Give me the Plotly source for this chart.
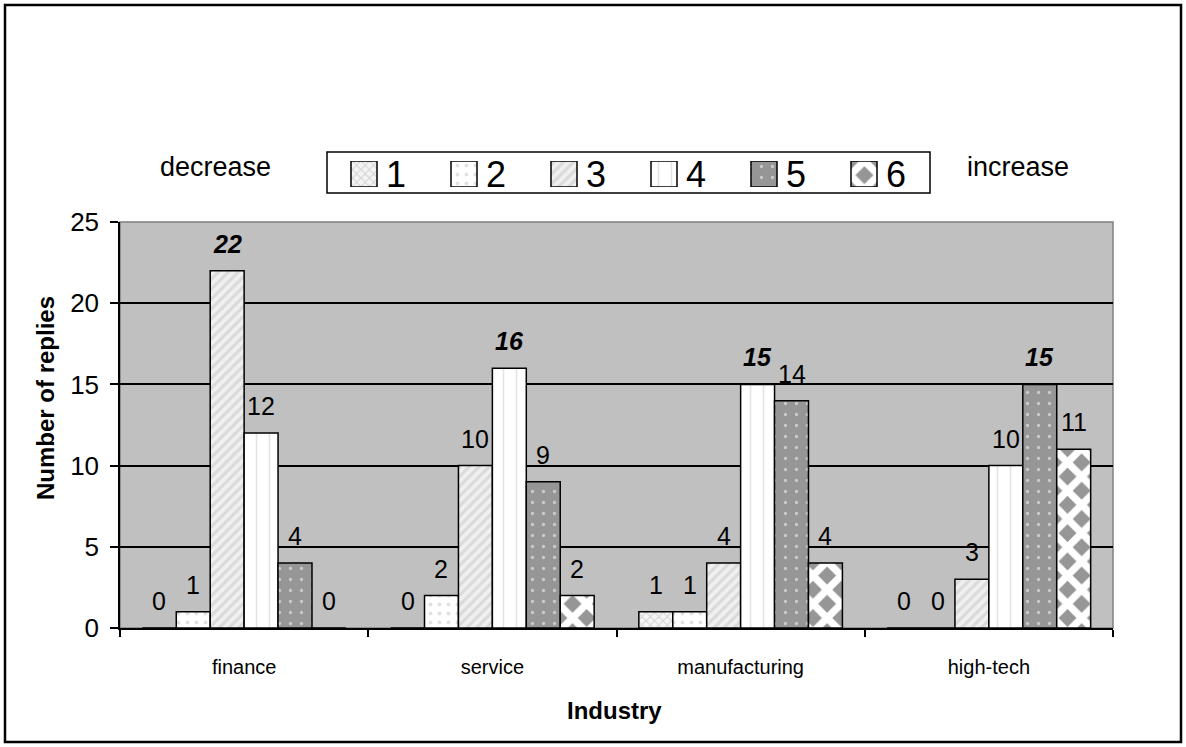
import plotly.graph_objects as go

# Survey replies per industry, rated on a 1 (decrease) .. 6 (increase) scale
industries = ["finance", "service", "manufacturing", "high-tech"]
series_names = ["1", "2", "3", "4", "5", "6"]
s1 = [0, 0, 1, 0]
s2 = [1, 2, 1, 0]
s3 = [22, 10, 4, 3]
s4 = [12, 16, 15, 10]
s5 = [4, 9, 14, 15]
s6 = [0, 2, 4, 11]
all_series = [s1, s2, s3, s4, s5, s6]

# Fill pattern for each rating
patterns = [
    dict(shape="x", bgcolor="#f4f4f4", fgcolor="#b4b4b4", size=6, solidity=0.35),
    dict(shape=".", bgcolor="#ffffff", fgcolor="#c4c4c4", size=9, solidity=0.15),
    dict(shape="/", bgcolor="#f0f0f0", fgcolor="#c4c4c4", size=7, solidity=0.45),
    dict(shape="|", bgcolor="#ffffff", fgcolor="#c8c8c8", size=13, solidity=0.12),
    dict(shape=".", bgcolor="#969696", fgcolor="#ffffff", size=11, solidity=0.07),
    dict(shape="x", bgcolor="#969696", fgcolor="#ffffff", size=20, solidity=0.6,
         fgopacity=1),
]

FONT = "Arial, Liberation Sans, sans-serif"
EDGE = dict(color="black", width=1.5)

# group geometry in category units
GROUP = 0.82
BAR_W = GROUP / len(series_names)

# Highest count in each industry is shown in bold italic
maxima = [max(vals) for vals in zip(*all_series)]

W, H = 1186, 747
M = 5  # outer frame sits on the paper edge
PW, PH = W - 2 * M, H - 2 * M


def fx(x):
    """pixel column -> paper fraction"""
    return (x - M) / PW


def fy(y):
    """pixel row -> paper fraction"""
    return (H - M - y) / PH


fig = go.Figure()
annotations = []
for i, (name, vals, pat) in enumerate(zip(series_names, all_series, patterns)):
    offset = -GROUP / 2 + i * BAR_W
    fig.add_trace(go.Bar(
        name=name,
        x=industries,
        y=vals,
        width=BAR_W,
        offset=offset,
        showlegend=False,
        marker=dict(color=pat["bgcolor"], pattern=pat, line=EDGE),
    ))
    # value labels above each bar
    for j, (v, m) in enumerate(zip(vals, maxima)):
        label = f"<b><i>{v}</i></b>" if v == m else str(v)
        annotations.append(dict(
            text=label, xref="x", yref="y",
            x=j + offset + BAR_W / 2, y=v,
            xanchor="center", yanchor="bottom", yshift=11,
            showarrow=False,
            font=dict(family=FONT, size=25, color="black"),
        ))

# Legend swatches: one unit-high bar per rating on a small helper axis
for i, (name, pat) in enumerate(zip(series_names, patterns)):
    fig.add_trace(go.Bar(
        x=[i], y=[1], width=0.26,
        xaxis="x2", yaxis="y2",
        showlegend=False, hoverinfo="skip",
        marker=dict(color=pat["bgcolor"], pattern=pat, line=EDGE),
    ))
    annotations.append(dict(
        text=name, xref="x2", yref="y2", x=i, y=0.5,
        xanchor="left", yanchor="middle", xshift=20, showarrow=False,
        font=dict(family=FONT, size=36, color="black"),
    ))

shapes = [
    # outer frame of the chart
    dict(type="rect", xref="paper", yref="paper", x0=0, x1=1, y0=0, y1=1,
         line=dict(color="black", width=2.5), layer="below"),
    # plot area edge
    dict(type="rect", xref="x domain", yref="y domain", x0=0, x1=1,
         y0=0, y1=1, line=dict(color="#808080", width=1.5), layer="below"),
    # legend box
    dict(type="rect", xref="paper", yref="paper", x0=fx(327), x1=fx(930),
         y0=fy(193), y1=fy(152), line=dict(color="black", width=1.5),
         fillcolor="white", layer="below"),
]

annotations += [
    dict(text="decrease", xref="paper", yref="paper", x=fx(215), y=fy(167),
         xanchor="center", yanchor="middle", showarrow=False,
         font=dict(family=FONT, size=27, color="black")),
    dict(text="increase", xref="paper", yref="paper", x=fx(1018), y=fy(167),
         xanchor="center", yanchor="middle", showarrow=False,
         font=dict(family=FONT, size=27, color="black")),
    dict(text="<b>Number of replies</b>", xref="paper", yref="paper",
         x=fx(45), y=fy(398), xanchor="center", yanchor="middle",
         textangle=-90, showarrow=False,
         font=dict(family=FONT, size=24, color="black")),
    dict(text="<b>Industry</b>", xref="paper", yref="paper",
         x=fx(614), y=fy(710), xanchor="center", yanchor="middle",
         showarrow=False,
         font=dict(family=FONT, size=24, color="black")),
]

fig.update_layout(
    width=W, height=H,
    margin=dict(l=M, r=M, t=M, b=M),
    paper_bgcolor="white",
    plot_bgcolor="#c0c0c0",
    barmode="overlay",
    font=dict(family=FONT, color="black"),
    shapes=shapes,
    annotations=annotations,
    showlegend=False,
    xaxis=dict(
        domain=[fx(120), fx(1113)],
        automargin=False,
        tickfont=dict(size=20),
        ticklabelstandoff=20,
        showline=True, linecolor="black", linewidth=1.5,
        ticks="outside", tickson="boundaries", ticklen=7,
        tickcolor="black", tickwidth=1.5,
        showgrid=False,
    ),
    yaxis=dict(
        domain=[fy(628), fy(222)],
        automargin=False,
        tickfont=dict(size=26),
        ticklabelstandoff=6,
        range=[0, 25], dtick=5,
        showline=True, linecolor="black", linewidth=1.5,
        ticks="outside", ticklen=8, tickcolor="black", tickwidth=1.5,
        showgrid=True, gridcolor="black", gridwidth=1.5,
        zeroline=False,
    ),
    # helper axes for the legend swatches: 100 px per rating
    xaxis2=dict(
        domain=[fx(327), fx(930)], anchor="y2", range=[-0.37, 5.66],
        visible=False, fixedrange=True,
    ),
    yaxis2=dict(
        domain=[fy(187), fy(161)], anchor="x2", range=[0, 1],
        visible=False, fixedrange=True,
    ),
)

fig.write_html("out.html")
